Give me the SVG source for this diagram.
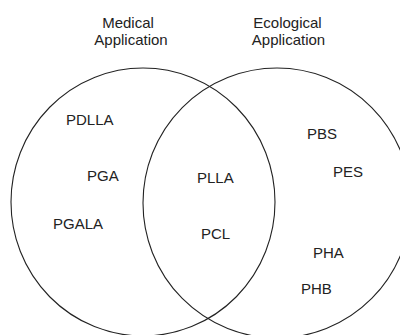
<svg xmlns="http://www.w3.org/2000/svg" width="400" height="335" viewBox="0 0 400 335">
<style>
.ring{fill:none;stroke:#222;stroke-width:1.1}
.t{font-family:"Liberation Sans",Arial,sans-serif;font-size:15px;fill:#222}
.h{text-anchor:middle}
</style>
<rect width="400" height="335" fill="#fff"/>
<g id="medical">
<ellipse class="ring" cx="143" cy="202" rx="132" ry="134"/>
<text class="t h" x="128" y="28">Medical</text>
<text class="t h" x="131" y="45">Application</text>
</g>
<g id="ecological">
<ellipse class="ring" cx="277" cy="203" rx="134" ry="135"/>
<text class="t h" x="287.5" y="28">Ecological</text>
<text class="t h" x="288.5" y="45">Application</text>
</g>
<g id="medical-only">
<g id="pdlla"><text class="t" x="66" y="125">PDLLA</text></g>
<g id="pga"><text class="t" x="87" y="181">PGA</text></g>
<g id="pgala"><text class="t" x="53" y="229">PGALA</text></g>
</g>
<g id="both">
<g id="plla"><text class="t" x="197" y="183">PLLA</text></g>
<g id="pcl"><text class="t" x="201" y="239">PCL</text></g>
</g>
<g id="ecological-only">
<g id="pbs"><text class="t" x="307" y="139">PBS</text></g>
<g id="pes"><text class="t" x="333" y="177">PES</text></g>
<g id="pha"><text class="t" x="313" y="258">PHA</text></g>
<g id="phb"><text class="t" x="301" y="294">PHB</text></g>
</g>
<g id="connectors"/>
</svg>
